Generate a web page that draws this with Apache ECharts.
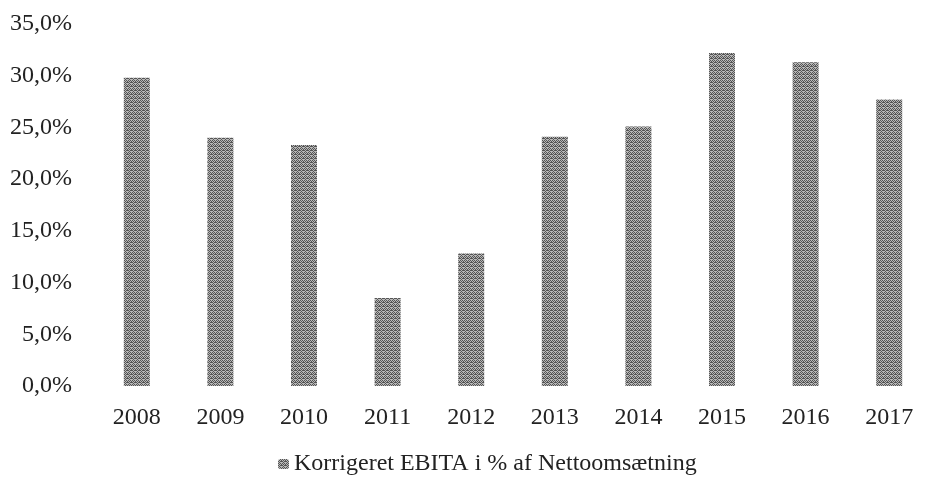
<!DOCTYPE html>
<html>
<head>
<meta charset="utf-8">
<script src="https://cdn.jsdelivr.net/npm/echarts@6/dist/echarts.min.js"></script>
<style>
  html, body { margin: 0; padding: 0; background: #fff; }
  #chart { width: 931px; height: 479px; }
</style>
</head>
<body>
<div id="chart"></div>
<script>
  // categories and values
  var years = ['2008', '2009', '2010', '2011', '2012', '2013', '2014', '2015', '2016', '2017'];
  var ebitaPct = [29.8, 24.0, 23.3, 8.5, 12.8, 24.1, 25.1, 32.2, 31.3, 27.7];
  var seriesName = 'Korrigeret EBITA i % af Nettoomsætning';

  // small dithered tile, like the scanned gray fill
  function ditherTile() {
    var c = document.createElement('canvas');
    c.width = 4; c.height = 4;
    var ctx = c.getContext('2d');
    ctx.fillStyle = '#b8b8b8';
    ctx.fillRect(0, 0, 4, 4);
    ctx.fillStyle = '#555';
    var dots = [[0,0],[2,0],[1,1],[3,2],[0,2],[2,2],[1,3],[3,1]];
    for (var i = 0; i < dots.length; i++) {
      ctx.fillRect(dots[i][0], dots[i][1], 1, 1);
    }
    return c;
  }

  var fill = { image: ditherTile(), repeat: 'repeat' };
  var font = '"Liberation Serif", serif';

  var myChart = echarts.init(document.getElementById('chart'));
  myChart.setOption({
    animation: false,
    grid: {
      left: 95,
      right: -18,
      top: 24,
      bottom: 93
    },
    legend: {
      data: [seriesName],
      top: 452,
      left: 278,
      padding: 0,
      itemWidth: 11,
      itemHeight: 10,
      itemGap: 4,
      textStyle: { fontFamily: font, fontSize: 24, color: '#222' }
    },
    xAxis: {
      type: 'category',
      data: years,
      axisLine: { show: false },
      axisTick: { show: false },
      axisLabel: { fontFamily: font, fontSize: 24, color: '#222', margin: 20 }
    },
    yAxis: {
      type: 'value',
      min: 0,
      max: 35,
      interval: 5,
      splitLine: { show: false },
      axisLine: { show: false },
      axisTick: { show: false },
      axisLabel: {
        fontFamily: font,
        fontSize: 24,
        color: '#222',
        margin: 23,
        formatter: function (v) { return v.toFixed(1).replace('.', ',') + '%'; }
      }
    },
    series: [{
      name: seriesName,
      type: 'bar',
      data: ebitaPct,
      barWidth: 26,
      itemStyle: { color: fill }
    }]
  });
</script>
</body>
</html>
